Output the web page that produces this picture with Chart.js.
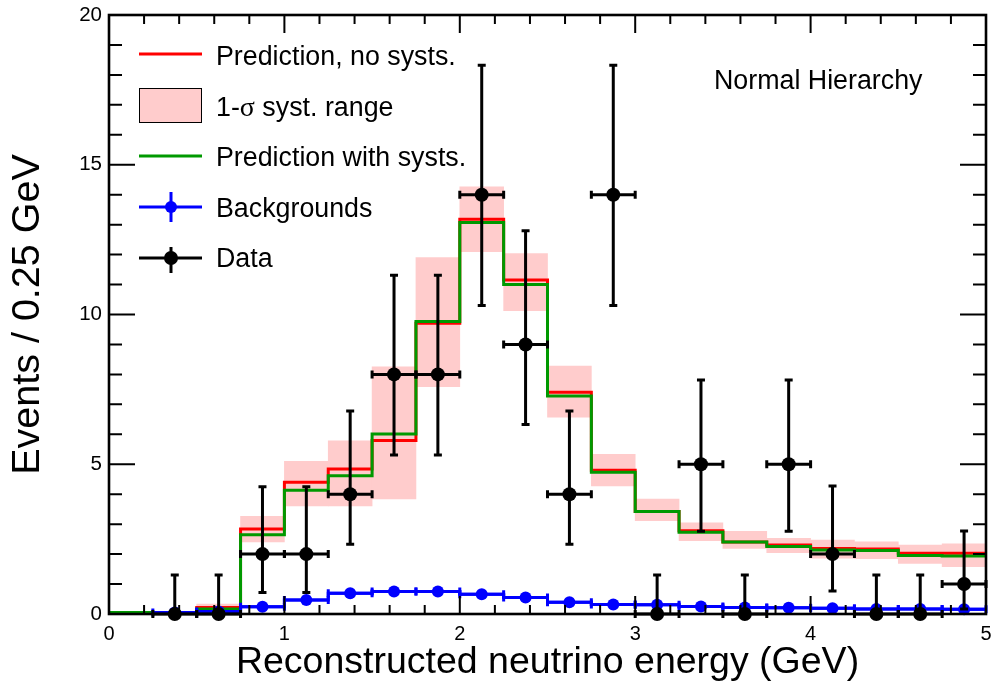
<!DOCTYPE html>
<html>
<head>
<meta charset="utf-8">
<script src="https://cdn.jsdelivr.net/npm/chart.js@4.4.0/dist/chart.umd.min.js"></script>
<style>
  html, body { margin: 0; padding: 0; background: #fff; }
  #wrap { width: 993px; height: 684px; }
</style>
</head>
<body>
<div id="wrap"><canvas id="chart" width="993" height="684"></canvas></div>
<script>
// Bins of 0.25 GeV, low edges
const binLow = [0, 0.25, 0.5, 0.75, 1, 1.25, 1.5, 1.75, 2, 2.25, 2.5, 2.75, 3, 3.25, 3.5, 3.75, 4, 4.25, 4.5, 4.75];
const binWidth = 0.25;

// Predictions
const predNoSyst = [0.05, 0.05, 0.22, 2.84, 4.40, 4.84, 5.79, 9.71, 13.18, 11.15, 7.40, 4.80, 3.42, 2.78, 2.40, 2.30, 2.19, 2.17, 2.03, 2.03];
const predSyst   = [0.05, 0.05, 0.17, 2.65, 4.13, 4.62, 6.01, 9.77, 13.07, 11.00, 7.28, 4.73, 3.42, 2.73, 2.40, 2.25, 2.14, 2.12, 1.95, 1.94];

// 1-sigma systematic band
const bandLo = [0.03, 0.03, 0.15, 2.41, 3.61, 3.61, 3.84, 7.59, 12.10, 10.13, 6.57, 4.28, 3.12, 2.45, 2.19, 2.05, 1.86, 1.85, 1.69, 1.58];
const bandHi = [0.08, 0.08, 0.33, 3.26, 5.10, 5.78, 8.25, 11.90, 14.26, 12.03, 8.28, 5.33, 3.84, 3.04, 2.76, 2.53, 2.47, 2.41, 2.30, 2.34];

// Backgrounds
const background = [null, 0.05, 0.08, 0.24, 0.47, 0.69, 0.75, 0.75, 0.66, 0.55, 0.39, 0.32, 0.31, 0.25, 0.22, 0.21, 0.19, 0.17, 0.17, 0.16];

// Data with asymmetric errors
const dataCounts = [null, 0, 0, 2, 2, 4, 8, 8, 14, 9, 4, 14, 0, 5, 0, 5, 2, 0, 0, 1];
const dataErrLo  = [null, 0, 0, 0.72, 0.72, 2.33, 5.31, 5.31, 10.3, 6.33, 2.33, 10.3, 0, 2.76, 0, 2.76, 0.77, 0, 0, 0.17];
const dataErrHi  = [null, 1.3, 1.3, 4.25, 4.25, 6.78, 11.31, 11.31, 18.32, 12.8, 6.78, 18.32, 1.3, 7.81, 1.3, 7.81, 4.27, 1.3, 1.3, 2.77];

const xTicks = [0, 1, 2, 3, 4, 5];
const yTicks = [0, 5, 10, 15, 20];

const RED = '#ff0000';
const GREEN = '#009900';
const BLUE = '#0000ff';
const PINK = '#ffcccc';
const FONT = '"Liberation Sans", Arial, Helvetica, sans-serif';

const xMax = binLow[binLow.length - 1] + binWidth;
const centers = binLow.map(x => x + binWidth / 2);

// step histogram points: value held from low edge to next edge
function stepPoints(values) {
  const pts = binLow.map((x, i) => ({ x: x, y: values[i] }));
  pts.push({ x: xMax, y: values[values.length - 1] });
  return pts;
}

// error bars drawn just before the point dataset itself
const errorBars = {
  id: 'errorBars',
  beforeDatasetDraw(chart, args) {
    const ds = chart.data.datasets[args.index];
    if (!ds.errLo) return;
    const xs = chart.scales.x, ys = chart.scales.y, ctx = chart.ctx;
    const cap = 4;
    ctx.save();
    ctx.strokeStyle = ds.borderColor;
    ctx.lineWidth = 3;
    ds.data.forEach((p, i) => {
      if (p.y === null) return;
      const px = xs.getPixelForValue(p.x);
      const py = ys.getPixelForValue(p.y);
      const xl = xs.getPixelForValue(p.x - binWidth / 2);
      const xr = xs.getPixelForValue(p.x + binWidth / 2);
      const yl = ys.getPixelForValue(ds.errLo[i]);
      const yh = ys.getPixelForValue(ds.errHi[i]);
      ctx.beginPath();
      ctx.moveTo(xl, py); ctx.lineTo(xr, py);
      ctx.moveTo(xl, py - cap); ctx.lineTo(xl, py + cap);
      ctx.moveTo(xr, py - cap); ctx.lineTo(xr, py + cap);
      if (yh - yl !== 0) {
        ctx.moveTo(px, yl); ctx.lineTo(px, yh);
        ctx.moveTo(px - cap, yh); ctx.lineTo(px + cap, yh);
        if (ds.errLo[i] > 0) { ctx.moveTo(px - cap, yl); ctx.lineTo(px + cap, yl); }
      }
      ctx.stroke();
    });
    ctx.restore();
  }
};

// ROOT-like frame with inward ticks on all four sides
const frame = {
  id: 'frame',
  afterDatasetsDraw(chart) {
    const { ctx, chartArea: a } = chart;
    const xs = chart.scales.x, ys = chart.scales.y;
    ctx.save();
    ctx.strokeStyle = '#000';
    ctx.lineWidth = 2;
    ctx.beginPath();
    for (let v = 0; v <= 25; v++) {
      const px = xs.getPixelForValue(v * 0.2);
      const len = v % 5 === 0 ? 18 : 9;
      ctx.moveTo(px, a.bottom); ctx.lineTo(px, a.bottom - len);
      ctx.moveTo(px, a.top); ctx.lineTo(px, a.top + len);
    }
    for (let v = 0; v <= 20; v++) {
      const py = ys.getPixelForValue(v);
      const len = v % 5 === 0 ? 26 : 13;
      ctx.moveTo(a.left, py); ctx.lineTo(a.left + len, py);
      ctx.moveTo(a.right, py); ctx.lineTo(a.right - len, py);
    }
    ctx.stroke();
    ctx.lineWidth = 2.6;
    ctx.strokeRect(a.left, a.top, a.right - a.left, a.bottom - a.top);
    ctx.restore();
  }
};

// legend and label, placed like the ROOT TLegend
const legendBox = {
  id: 'legendBox',
  afterDraw(chart) {
    const ctx = chart.ctx;
    const x0 = 139, x1 = 202, xm = 171, tx = 216;
    const f = '26.8px ' + FONT;
    ctx.save();
    ctx.lineWidth = 3;
    const hline = (y, c) => { ctx.strokeStyle = c; ctx.beginPath(); ctx.moveTo(x0, y); ctx.lineTo(x1, y); ctx.stroke(); };
    hline(54, RED);
    ctx.fillStyle = PINK;
    ctx.fillRect(x0, 88, x1 - x0, 35);
    ctx.lineWidth = 1;
    ctx.strokeStyle = '#000';
    ctx.strokeRect(x0 + 0.5, 88.5, x1 - x0 - 1, 34);
    ctx.lineWidth = 3;
    hline(156, GREEN);
    [[207, BLUE, 192, 222, 6], [258, '#000', 247, 273, 7]].forEach(([y, c, y1, y2, r]) => {
      hline(y, c);
      ctx.beginPath(); ctx.moveTo(xm, y1); ctx.lineTo(xm, y2); ctx.stroke();
      ctx.fillStyle = c;
      ctx.beginPath(); ctx.arc(xm, y, r, 0, Math.PI * 2); ctx.fill();
    });

    ctx.fillStyle = '#000';
    ctx.textBaseline = 'alphabetic';
    ctx.font = f;
    ctx.fillText('Prediction, no systs.', tx, 65);
    let w = ctx.measureText('1-').width;
    ctx.fillText('1-', tx, 115.5);
    ctx.font = '28px "Liberation Serif", "DejaVu Serif", serif';
    ctx.fillText('σ', tx + w, 115.5);
    w += ctx.measureText('σ').width;
    ctx.font = f;
    ctx.fillText(' syst. range', tx + w, 115.5);
    ctx.fillText('Prediction with systs.', tx, 166);
    ctx.fillText('Backgrounds', tx, 216.5);
    ctx.fillText('Data', tx, 267);
    ctx.fillText('Normal Hierarchy', 714, 89);
    ctx.restore();
  }
};

const ctx = document.getElementById('chart').getContext('2d');
const chart = new Chart(ctx, {
  type: 'bar',
  data: {
    datasets: [
      {
        type: 'line',
        label: 'Data',
        data: centers.map((x, i) => ({ x: x, y: dataCounts[i] })),
        errLo: dataErrLo,
        errHi: dataErrHi,
        showLine: false,
        borderColor: '#000',
        backgroundColor: '#000',
        pointRadius: 7,
        pointBorderWidth: 0,
        clip: false,
        order: 1
      },
      {
        type: 'line',
        label: 'Backgrounds points',
        data: centers.map((x, i) => ({ x: x, y: background[i] })),
        errLo: background,
        errHi: background,
        showLine: false,
        borderColor: BLUE,
        backgroundColor: BLUE,
        pointRadius: 6,
        pointBorderWidth: 0,
        clip: false,
        order: 2
      },
      {
        type: 'line',
        label: 'Backgrounds',
        data: stepPoints(background),
        stepped: 'before',
        borderColor: BLUE,
        borderWidth: 3,
        pointRadius: 0,
        order: 3
      },
      {
        type: 'line',
        label: 'Prediction with systs.',
        data: stepPoints(predSyst),
        stepped: 'before',
        borderColor: GREEN,
        borderWidth: 3,
        pointRadius: 0,
        order: 4
      },
      {
        type: 'line',
        label: 'Prediction, no systs.',
        data: stepPoints(predNoSyst),
        stepped: 'before',
        borderColor: RED,
        borderWidth: 3,
        pointRadius: 0,
        order: 5
      },
      {
        type: 'bar',
        label: '1-σ syst. range',
        data: centers.map((x, i) => ({ x: x, y: [bandLo[i], bandHi[i]] })),
        backgroundColor: PINK,
        borderWidth: 0,
        barPercentage: 1,
        categoryPercentage: 1,
        order: 6
      }
    ]
  },
  options: {
    responsive: false,
    devicePixelRatio: 1,
    animation: false,
    layout: { padding: { left: 0, right: 5, top: 15, bottom: 0 } },
    plugins: {
      legend: { display: false },
      tooltip: { enabled: false }
    },
    scales: {
      x: {
        type: 'linear',
        min: 0,
        max: xMax,
        offset: false,
        grid: { display: false, drawTicks: false, tickLength: 0 },
        border: { display: false },
        afterBuildTicks: (scale) => { scale.ticks = xTicks.map(v => ({ value: v })); },
        ticks: { color: '#000', font: { family: FONT, size: 20 }, padding: 8, maxRotation: 0 },
        afterFit: (scale) => { scale.height = 70; scale.paddingLeft = 0; scale.paddingRight = 0; },
        title: {
          display: true,
          text: 'Reconstructed neutrino energy (GeV)',
          color: '#000',
          font: { family: FONT, size: 37.5, lineHeight: 1 },
          padding: { top: 0, bottom: 3 }
        }
      },
      y: {
        min: 0,
        max: 20,
        grid: { display: false, drawTicks: false, tickLength: 0 },
        border: { display: false },
        afterBuildTicks: (scale) => { scale.ticks = yTicks.map(v => ({ value: v })); },
        ticks: { color: '#000', font: { family: FONT, size: 20.5 }, padding: 7 },
        afterFit: (scale) => { scale.width = 109; scale.paddingTop = 0; scale.paddingBottom = 0; },
        title: {
          display: true,
          text: 'Events / 0.25 GeV',
          color: '#000',
          font: { family: FONT, size: 39.5, lineHeight: 1 },
          padding: { top: 8, bottom: 0 }
        }
      }
    }
  },
  plugins: [errorBars, frame, legendBox]
});
</script>
</body>
</html>
